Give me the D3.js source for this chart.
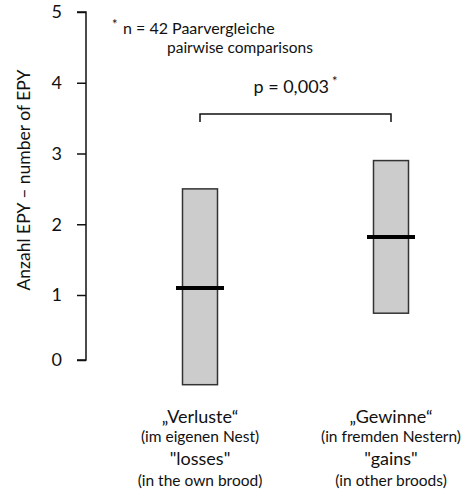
<!DOCTYPE html>
<html>
<head>
<meta charset="utf-8">
<script src="https://cdn.jsdelivr.net/npm/d3@7"></script>
<style>
  body { margin: 0; background: #fff; }
  text { font-family: Lato, "Open Sans", sans-serif; fill: #111; }
</style>
</head>
<body>
<svg width="473" height="492"></svg>
<script>
// data
const groups = ['losses', 'gains'];
const boxLow = [-0.38, 0.72];
const boxHigh = [2.5, 2.9];
const medians = [1.1, 1.82];
const yTicks = [0, 1, 2, 3, 4, 5];
const labelsDe = ['„Verluste“', '„Gewinne“'];
const labelsDe2 = ['(im eigenen Nest)', '(in fremden Nestern)'];
const labelsEn = ['"losses"', '"gains"'];
const labelsEn2 = ['(in the own brood)', '(in other broods)'];

const svg = d3.select('svg');

// the original axis is a bit squeezed between 0 and 1
const y = d3.scaleLinear().domain([0, 1, 5]).range([360, 295, 12]);
const x = d3.scalePoint().domain(groups).range([200, 391]);
const boxW = 35;
const medW = 48;

// y axis
const yAxis = d3.axisLeft(y).tickValues(yTicks).tickSize(9).tickPadding(15).tickFormat(d3.format('d'));
const ag = svg.append('g')
    .attr('transform', 'translate(86,0)')
    .call(yAxis);
ag.select('.domain').attr('stroke', '#111').attr('stroke-width', 1.5).attr('d', 'M-9,' + y(5) + 'H0V' + y(0) + 'H-9');
ag.selectAll('.tick line').attr('stroke', '#111').attr('stroke-width', 1.5);
ag.selectAll('.tick text').attr('font-size', 18).attr('font-family', 'Lato, sans-serif').attr('fill', '#111');

svg.append('text')
    .attr('transform', 'translate(30,180) rotate(-90)')
    .attr('text-anchor', 'middle')
    .attr('font-size', 17.5)
    .text('Anzahl EPY – number of EPY');

// boxes
groups.forEach((g, i) => {
  svg.append('rect')
    .attr('x', x(g) - boxW / 2)
    .attr('y', y(boxHigh[i]))
    .attr('width', boxW)
    .attr('height', y(boxLow[i]) - y(boxHigh[i]))
    .attr('fill', '#cccccc')
    .attr('stroke', '#333')
    .attr('stroke-width', 1.5);
  svg.append('line')
    .attr('x1', x(g) - medW / 2)
    .attr('x2', x(g) + medW / 2)
    .attr('y1', y(medians[i]))
    .attr('y2', y(medians[i]))
    .attr('stroke', '#000')
    .attr('stroke-width', 4);

  const lab = svg.append('text').attr('text-anchor', 'middle');
  lab.append('tspan').attr('x', x(g)).attr('y', 423).attr('font-size', 18).text(labelsDe[i]);
  lab.append('tspan').attr('x', x(g)).attr('y', 442).attr('font-size', 15.5).text(labelsDe2[i]);
  lab.append('tspan').attr('x', x(g)).attr('y', 465).attr('font-size', 18).text(labelsEn[i]);
  lab.append('tspan').attr('x', x(g)).attr('y', 486).attr('font-size', 15.5).text(labelsEn2[i]);
});

// significance bracket
const by = 114;
svg.append('path')
    .attr('d', 'M' + x('losses') + ',' + (by + 8) + 'V' + by + 'H' + x('gains') + 'V' + (by + 8))
    .attr('fill', 'none')
    .attr('stroke', '#111')
    .attr('stroke-width', 1.5);
const pt = svg.append('text')
    .attr('x', (x('losses') + x('gains')) / 2)
    .attr('y', 93)
    .attr('text-anchor', 'middle')
    .attr('font-size', 18);
pt.append('tspan').text('p = 0,003');
pt.append('tspan').attr('dx', 3).attr('dy', -7).attr('font-size', 13).text('*');

// note
svg.append('text').attr('x', 112).attr('y', 29).attr('font-size', 13).text('*');
svg.append('text').attr('x', 123).attr('y', 34).attr('font-size', 16).text('n = 42 Paarvergleiche');
svg.append('text').attr('x', 167).attr('y', 53).attr('font-size', 15.5).text('pairwise comparisons');
</script>
</body>
</html>
